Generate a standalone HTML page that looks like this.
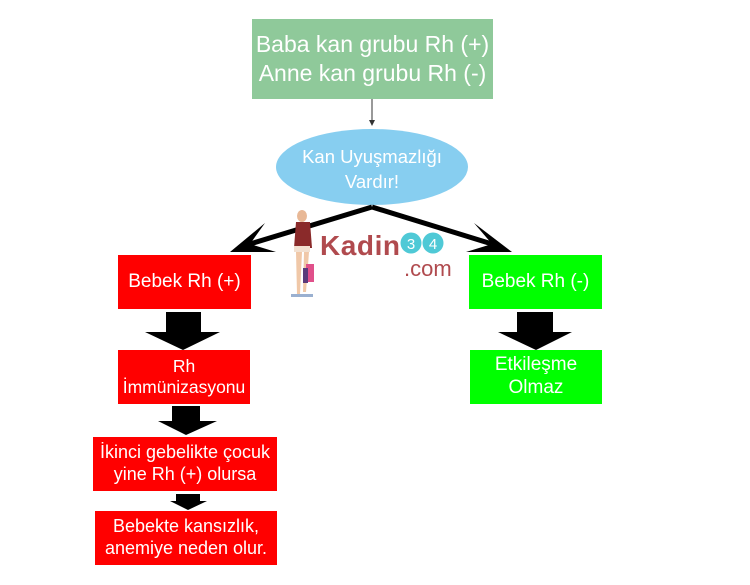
<!DOCTYPE html>
<html><head><meta charset="utf-8"><style>
body{margin:0;width:750px;height:585px;background:#fff;position:relative;overflow:hidden;font-family:"Liberation Sans",sans-serif}
.b{position:absolute;display:flex;align-items:center;justify-content:center;text-align:center;color:#fff;line-height:1.2;white-space:nowrap}
.r{background:#ff0000;font-size:19px}
.g{background:#00ff00;font-size:19px}
</style></head><body>
<div class="b" style="left:252px;top:19px;width:241px;height:80px;background:#8fc99a;font-size:23px;line-height:1.25">Baba kan grubu Rh (+)<br>Anne kan grubu Rh (-)</div>
<svg width="750" height="585" style="position:absolute;left:0;top:0">
<line x1="372" y1="99" x2="372" y2="122" stroke="#333" stroke-width="1"/>
<polygon points="369,120 375,120 372,126" fill="#333"/>
<ellipse cx="372" cy="167" rx="96" ry="38" fill="#87cef0"/>
<text x="372" y="163" fill="#fff" font-size="18.5" text-anchor="middle" font-family="Liberation Sans">Kan Uyuşmazlığı</text>
<text x="372" y="188" fill="#fff" font-size="18.5" text-anchor="middle" font-family="Liberation Sans">Vardır!</text>
<line x1="372" y1="207" x2="250" y2="244" stroke="#000" stroke-width="5"/>
<polygon points="230,252 265,223 250,244 276,252" fill="#000"/>
<line x1="372" y1="207" x2="492" y2="244" stroke="#000" stroke-width="5"/>
<polygon points="512,252 474,223 492,244 466,252" fill="#000"/>
<polygon points="166,312 201,312 201,332 220,332 183,350 145,332 166,332" fill="#000"/>
<polygon points="517,312 553,312 553,332 572,332 536,350 498,332 517,332" fill="#000"/>
<polygon points="172,406 200,406 200,421 217,421 186,435 158,421 172,421" fill="#000"/>
<polygon points="176,494 200,494 200,501 207,501 188,510 170,501 176,501" fill="#000"/>
<ellipse cx="302" cy="216" rx="5" ry="6" fill="#e8b896"/>
<path d="M296 222 L310 222 L312 248 L294 248 Z" fill="#8a2a2a"/>
<rect x="294" y="246" width="16" height="6" fill="#f2e0d0"/>
<path d="M296 252 L302 252 L300 294 L297 294 Z M304 252 L309 252 L306 292 L303 292 Z" fill="#f0c8a8"/>
<rect x="306" y="264" width="8" height="18" fill="#e0508a"/>
<rect x="303" y="268" width="5" height="15" fill="#5a3a7a"/>
<rect x="291" y="294" width="22" height="3" fill="#9ab0d0"/>
<text x="320" y="255" fill="#b04a4e" font-size="28" font-weight="bold" font-family="Liberation Sans" textLength="80">Kadin</text>
<circle cx="411" cy="243" r="10.5" fill="#4fc9d6"/>
<circle cx="433" cy="243" r="10.5" fill="#4fc9d6"/>
<text x="411" y="249" fill="#fff" font-size="15" text-anchor="middle" font-family="Liberation Sans">3</text>
<text x="433" y="249" fill="#fff" font-size="15" text-anchor="middle" font-family="Liberation Sans">4</text>
<text x="404" y="276" fill="#b04a4e" font-size="22" font-family="Liberation Sans">.com</text>
</svg>
<div class="b r" style="left:118px;top:255px;width:133px;height:54px">Bebek Rh (+)</div>
<div class="b g" style="left:469px;top:255px;width:133px;height:54px">Bebek Rh (-)</div>
<div class="b r" style="left:118px;top:350px;width:132px;height:54px;font-size:17.5px">Rh<br>İmmünizasyonu</div>
<div class="b g" style="left:470px;top:350px;width:132px;height:54px">Etkileşme<br>Olmaz</div>
<div class="b r" style="left:93px;top:437px;width:184px;height:54px;font-size:18px">İkinci gebelikte çocuk<br>yine Rh (+) olursa</div>
<div class="b r" style="left:95px;top:511px;width:182px;height:54px;font-size:18px">Bebekte kansızlık,<br>anemiye neden olur.</div>
</body></html>
